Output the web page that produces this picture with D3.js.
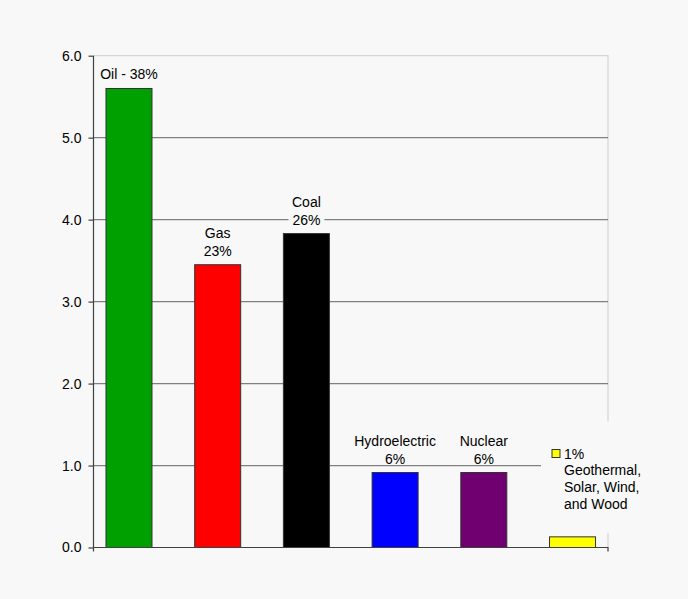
<!DOCTYPE html>
<html>
<head>
<meta charset="utf-8">
<script src="https://cdn.jsdelivr.net/npm/d3@7"></script>
<style>
  html, body { margin: 0; padding: 0; background: #f8f8f8; }
  svg { display: block; font-family: "Liberation Sans", Arial, sans-serif; }
</style>
</head>
<body>
<svg width="688" height="599"></svg>
<script>
// chart data
var categories = ["Oil", "Gas", "Coal", "Hydroelectric", "Nuclear", "Other"];
var values = [5.6, 3.45, 3.83, 0.915, 0.915, 0.13];
var colors = ["#00a000", "#ff0000", "#000000", "#0000ff", "#700070", "#ffff00"];
var labels = [["Oil - 38%"], ["Gas", "23%"], ["Coal", "26%"], ["Hydroelectric", "6%"], ["Nuclear", "6%"], []];
var legendLines = ["1%", "Geothermal,", "Solar, Wind,", "and Wood"];
var yTicks = [0, 1, 2, 3, 4, 5, 6];

var svg = d3.select("svg");
var plotLeft = 93.5, plotRight = 608, plotTop = 55.7, plotBottom = 547.5;

var x = d3.scalePoint().domain(categories).range([plotLeft, plotRight]).padding(0.4);
var y = d3.scaleLinear().domain([0, 6]).range([plotBottom, plotTop]);
var barW = 46;

svg.append("rect").attr("width", 688).attr("height", 599).attr("fill", "#f8f8f8");

// frame (top / right), light
svg.append("path")
    .attr("d", "M" + plotLeft + "," + plotTop + "H" + plotRight + "V" + plotBottom)
    .attr("fill", "none").attr("stroke", "#d6d6d6").attr("stroke-width", 1.3);

// gridlines
svg.append("g").selectAll("line")
    .data(yTicks.filter(function(d){ return d > 0 && d < 6; }))
    .enter().append("line")
    .attr("x1", plotLeft).attr("x2", plotRight)
    .attr("y1", function(d){ return y(d); }).attr("y2", function(d){ return y(d); })
    .attr("stroke", "#808080").attr("stroke-width", 1.3);

// legend box covers grid + frame
var legendX = 541, legendY = 421;
svg.append("rect")
    .attr("x", legendX).attr("y", legendY).attr("width", 100).attr("height", 112)
    .attr("fill", "#f8f8f8");

// y axis
var yAxis = svg.append("g")
    .attr("transform", "translate(" + plotLeft + ",0)")
    .call(d3.axisLeft(y).tickValues(yTicks).tickFormat(d3.format(".1f")).tickSizeOuter(0).tickSize(5).tickPadding(7));
yAxis.select(".domain").attr("stroke", "#404040").attr("stroke-width", 1.2)
    .attr("d", "M0," + (plotBottom + 4) + "V" + plotTop);
yAxis.selectAll(".tick line").attr("stroke", "#404040").attr("stroke-width", 1.2);
yAxis.selectAll(".tick text").attr("font-size", 14).attr("fill", "#000")
    .style("font-family", "Liberation Sans, Arial, sans-serif");

// bars
svg.append("g").selectAll("rect")
    .data(categories)
    .enter().append("rect")
    .attr("x", function(d){ return x(d) - barW / 2; })
    .attr("y", function(d, i){ return y(values[i]); })
    .attr("width", barW)
    .attr("height", function(d, i){ return y(0) - y(values[i]); })
    .attr("fill", function(d, i){ return colors[i]; })
    .attr("stroke", "#333").attr("stroke-width", 1);

// x axis line
svg.append("path")
    .attr("d", "M" + plotLeft + "," + plotBottom + "H" + plotRight + "V" + (plotBottom + 4))
    .attr("fill", "none").attr("stroke", "#404040").attr("stroke-width", 1.2);

// bar labels
var lineH = 17.6;
categories.forEach(function(c, i) {
    var lines = labels[i];
    if (!lines.length) return;
    var g = svg.append("g");
    var base = y(values[i]) - 9;
    lines.forEach(function(t, k) {
        g.append("text")
            .attr("x", x(c))
            .attr("y", base - (lines.length - 1 - k) * lineH)
            .attr("text-anchor", "middle")
            .attr("font-size", 14)
            .attr("fill", "#000")
            .text(t);
    });
    // background box behind label, down to the last baseline
    var bb = g.node().getBBox();
    g.insert("rect", "text")
        .attr("x", bb.x - 3.5).attr("y", bb.y)
        .attr("width", bb.width + 7).attr("height", base + 0.5 - bb.y)
        .attr("fill", "#f8f8f8");
});

// legend
svg.append("rect")
    .attr("x", 552).attr("y", 449.5).attr("width", 8).attr("height", 8)
    .attr("fill", "#ffff00").attr("stroke", "#333").attr("stroke-width", 1);
svg.append("g").selectAll("text")
    .data(legendLines)
    .enter().append("text")
    .attr("x", 564)
    .attr("y", function(d, i){ return 458.5 + i * 16.9; })
    .attr("font-size", 14)
    .attr("fill", "#000")
    .text(function(d){ return d; });
</script>
</body>
</html>
